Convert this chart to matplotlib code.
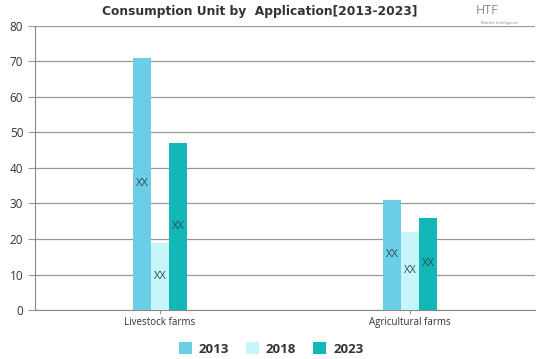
import numpy as np
import matplotlib.pyplot as plt

# data
categories = ["Livestock farms", "Agricultural farms"]
years = ["2013", "2018", "2023"]
v2013 = [71, 31]
v2018 = [19, 22]
v2023 = [47, 26]
bar_labels = ["XX", "XX"]

colors = ["#6ccde6", "#c6f6f9", "#13b7b7"]
series = [v2013, v2018, v2023]

plt.rcParams["font.family"] = ["Open Sans", "DejaVu Sans"]

fig = plt.figure(figsize=(5.39, 3.59), dpi=100)
ax = fig.add_axes([35 / 539, 1 - 310 / 359, 500 / 539, 284 / 359])

x = np.arange(len(categories))
w = 0.072
for i, (vals, col, yr) in enumerate(zip(series, colors, years)):
    pos = x + (i - 1) * w
    ax.bar(pos, vals, width=w, color=col, label=yr, zorder=3)
    for px, v, lab in zip(pos, vals, bar_labels):
        ax.text(px, v / 2, lab, ha="center", va="center", fontsize=8,
                color="#2e4f5a", zorder=4)

ax.set_xlim(-0.5, 1.5)
ax.set_ylim(0, 80)
ax.set_yticks(range(0, 81, 10))
ax.set_xticks(x)
ax.set_xticklabels(categories, fontsize=7, color="#333333")
ax.tick_params(axis="y", labelsize=8.5, colors="#333333", length=5, color="#999999")
ax.tick_params(axis="x", length=3, color="#999999", pad=2)
ax.yaxis.grid(True, color="#999999", linewidth=0.9, zorder=0)
for s in ["top", "right"]:
    ax.spines[s].set_visible(False)
ax.spines["left"].set_color("#888888")
ax.spines["bottom"].set_color("#888888")

fig.text(260 / 539, 1 - 12 / 359, "Consumption Unit by  Application[2013-2023]",
         ha="center", va="center", fontsize=8.8, fontweight="heavy",
         family="DejaVu Sans", color="#333333")

# logo
fig.text(487 / 539, 1 - 11 / 359, "HTF", ha="center", va="center",
         fontsize=9, color="#8a8a8a")
fig.text(500 / 539, 1 - 23 / 359, "Market Intelligence", ha="center",
         va="center", fontsize=3, color="#8a8a8a")

fig.legend(loc="center", bbox_to_anchor=(271 / 539, 1 - 349 / 359), ncol=3,
           frameon=False, handlelength=1.0, handleheight=1.0,
           columnspacing=1.3, handletextpad=0.5,
           prop={"weight": "bold", "size": 9.5})
for t in fig.legends[0].get_texts():
    t.set_color("#333333")

fig.savefig("out.png", dpi=100)
